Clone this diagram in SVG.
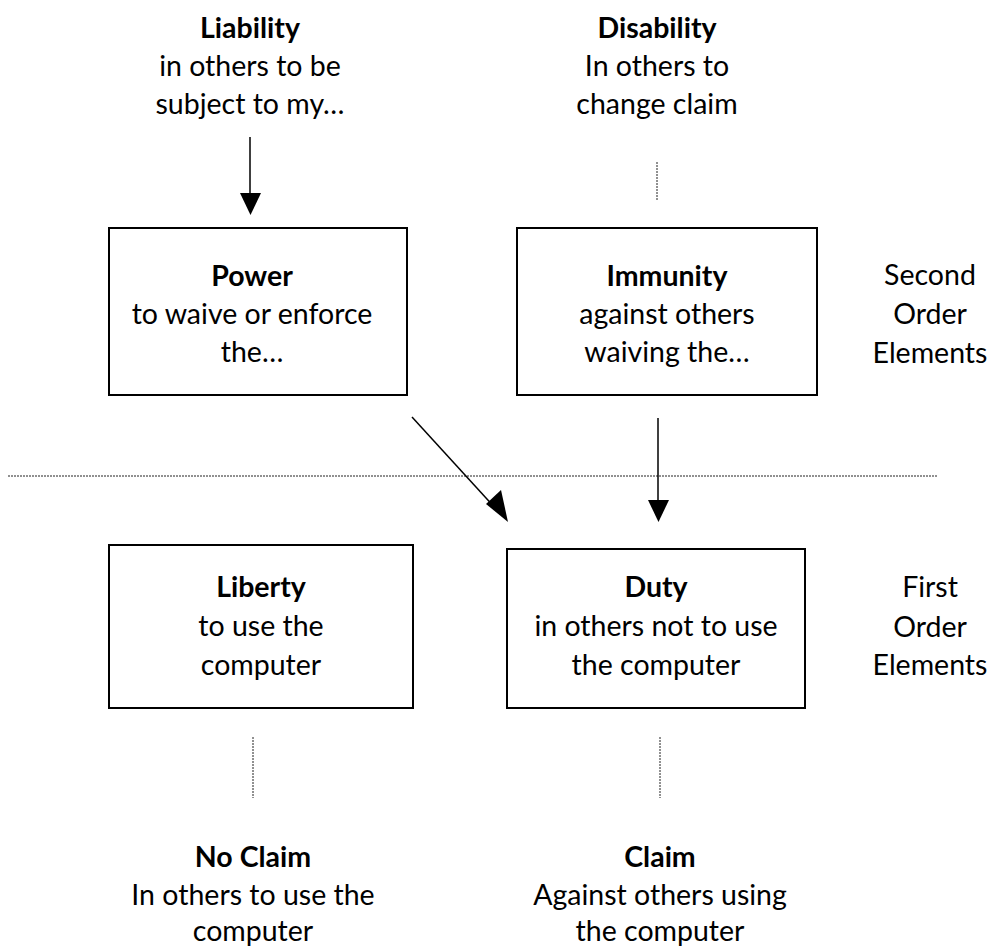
<svg xmlns="http://www.w3.org/2000/svg" width="994" height="950" viewBox="0 0 994 950">
  <style>
    text { font-family: Lato, "Open Sans", sans-serif; font-size: 28.5px; fill: #000; text-anchor: middle; }
    .b { font-weight: bold; }
    .box { fill: #fff; stroke: #000; stroke-width: 2; }
    .arrow { stroke: #000; stroke-width: 1.5; fill: none; }
    .dot { stroke: #222; stroke-width: 1; stroke-dasharray: 2 1; fill: none; }
    .head { fill: #000; }
  </style>
  <rect width="994" height="950" fill="#fff"/>

  <!-- connectors: solid arrows between elements, dotted lines for correlatives and the order divider -->
  <g id="connectors">
    <line class="dot" x1="8" y1="476" x2="937" y2="476"/>
    <line class="arrow" x1="250" y1="137" x2="250" y2="196"/>
    <path class="head" d="M240,193 L261,193 L250.5,215 Z"/>
    <line class="dot" x1="657" y1="162" x2="657" y2="200"/>
    <line class="arrow" x1="658" y1="418" x2="658" y2="503"/>
    <path class="head" d="M648,500 L669,500 L658.5,522 Z"/>
    <line class="arrow" x1="412" y1="417" x2="497" y2="510"/>
    <path class="head" d="M486,504 L501,490 L508,522 Z"/>
    <line class="dot" x1="253" y1="737" x2="253" y2="798"/>
    <line class="dot" x1="660" y1="737" x2="660" y2="798"/>
  </g>

  <g id="liability">
    <text class="b" x="250" y="38">Liability</text>
    <text x="250" y="76">in others to be</text>
    <text x="250" y="114">subject to my…</text>
  </g>

  <g id="disability">
    <text class="b" x="657" y="38">Disability</text>
    <text x="657" y="76">In others to</text>
    <text x="657" y="114">change claim</text>
  </g>

  <g id="power">
    <rect class="box" x="109" y="228" width="298" height="167"/>
    <text class="b" x="252" y="286">Power</text>
    <text x="252" y="324">to waive or enforce</text>
    <text x="252" y="362">the…</text>
  </g>

  <g id="immunity">
    <rect class="box" x="517" y="228" width="300" height="167"/>
    <text class="b" x="667" y="286">Immunity</text>
    <text x="667" y="324">against others</text>
    <text x="667" y="362">waiving the…</text>
  </g>

  <g id="second-order">
    <text x="930" y="285">Second</text>
    <text x="930" y="324">Order</text>
    <text x="930" y="363">Elements</text>
  </g>

  <g id="liberty">
    <rect class="box" x="109" y="545" width="304" height="163"/>
    <text class="b" x="261" y="597">Liberty</text>
    <text x="261" y="636">to use the</text>
    <text x="261" y="675">computer</text>
  </g>

  <g id="duty">
    <rect class="box" x="507" y="549" width="298" height="159"/>
    <text class="b" x="656" y="597">Duty</text>
    <text x="656" y="636">in others not to use</text>
    <text x="656" y="675">the computer</text>
  </g>

  <g id="first-order">
    <text x="930" y="597">First</text>
    <text x="930" y="637">Order</text>
    <text x="930" y="675">Elements</text>
  </g>

  <g id="no-claim">
    <text class="b" x="253" y="867">No Claim</text>
    <text x="253" y="905">In others to use the</text>
    <text x="253" y="941">computer</text>
  </g>

  <g id="claim">
    <text class="b" x="660" y="867">Claim</text>
    <text x="660" y="905">Against others using</text>
    <text x="660" y="941">the computer</text>
  </g>
</svg>
